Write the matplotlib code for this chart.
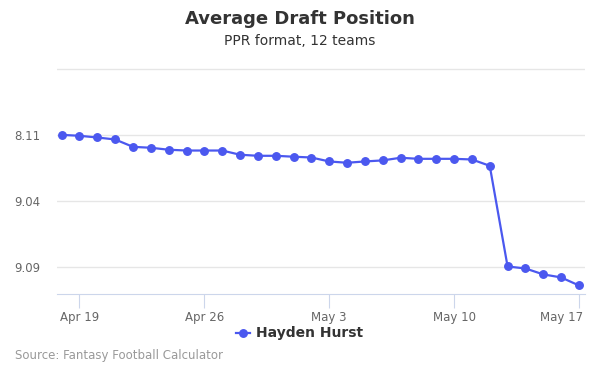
import matplotlib
matplotlib.use("Agg")
import matplotlib.pyplot as plt
import matplotlib.dates as mdates
import matplotlib.transforms as mtransforms
import datetime as dt

# Data
start = dt.date(2018, 4, 18)
dates = [start + dt.timedelta(days=i) for i in range(30)]
adp = [94.98, 95.05, 95.18, 95.33, 95.89, 95.96, 96.11, 96.17, 96.17, 96.17,
       96.49, 96.57, 96.57, 96.64, 96.70, 97.00, 97.10, 97.00, 96.92, 96.72,
       96.80, 96.80, 96.80, 96.85, 97.33, 104.98, 105.13, 105.58, 105.81, 106.42]
series_name = "Hayden Hurst"
ytick_values = [90, 95, 100, 105]
xtick_dates = [dt.date(2018, 4, 19), dt.date(2018, 4, 26), dt.date(2018, 5, 3),
               dt.date(2018, 5, 10), dt.date(2018, 5, 17)]
teams = 12

def pick_label(p, show):
    if not show:
        return ""
    r = int((p - 1) // teams) + 1
    k = int((p - 1) % teams) + 1
    return f"{r}.{k:02d}"

fig = plt.figure(figsize=(6, 3.75), dpi=100)
ax = fig.add_axes([57/600, 81/375, 528/600, 226/375])

color = "#4b58ef"
ax.plot(dates, adp, color=color, lw=1.6, marker="o", ms=5.4, zorder=3, clip_on=False)

ax.set_ylim(107.07, 89.9)
ax.set_yticks(ytick_values)
ax.set_yticklabels([pick_label(v, v != 90) for v in ytick_values])
ax.yaxis.grid(True, color="#e6e6e6", lw=1)
ax.set_axisbelow(True)

x0 = mdates.date2num(dates[0]) - 0.26
x1 = mdates.date2num(dates[-1]) + 0.34
ax.set_xlim(x0, x1)
ax.set_xticks([mdates.date2num(d) for d in xtick_dates])
ax.set_xticklabels([d.strftime("%b ") + str(d.day) for d in xtick_dates])

for s in ["top", "right", "left"]:
    ax.spines[s].set_visible(False)
ax.spines["bottom"].set_color("#ccd6eb")
ax.tick_params(axis="y", length=0, labelsize=8.5, labelcolor="#666666", pad=12)
ax.tick_params(axis="x", length=10, color="#ccd6eb", labelsize=8.5, labelcolor="#666666", pad=2)

last = ax.get_xticklabels()[-1]
last.set_horizontalalignment("right")
last.set_transform(last.get_transform() + mtransforms.ScaledTranslation(4/100, 0, fig.dpi_scale_trans))

fig.text(0.5, 1 - 19/375, "Average Draft Position", ha="center", va="center",
         fontsize=13, fontweight="bold", color="#333333")
fig.text(0.5, 1 - 41/375, "PPR format, 12 teams", ha="center", va="center",
         fontsize=10, color="#333333")

# legend
ly = 1 - 333/375
fig.lines.append(plt.Line2D([236/600, 250/600], [ly, ly], transform=fig.transFigure,
                            color=color, lw=1.6))
fig.lines.append(plt.Line2D([243/600], [ly], transform=fig.transFigure,
                            color=color, marker="o", ms=5.4, lw=0))
fig.text(256/600, ly, series_name, ha="left", va="center", fontsize=10,
         fontweight="bold", color="#333333")

fig.text(15/600, 1 - 356/375, "Source: Fantasy Football Calculator", ha="left",
         va="center", fontsize=8.5, color="#999999")

fig.savefig("out.png", dpi=100)
